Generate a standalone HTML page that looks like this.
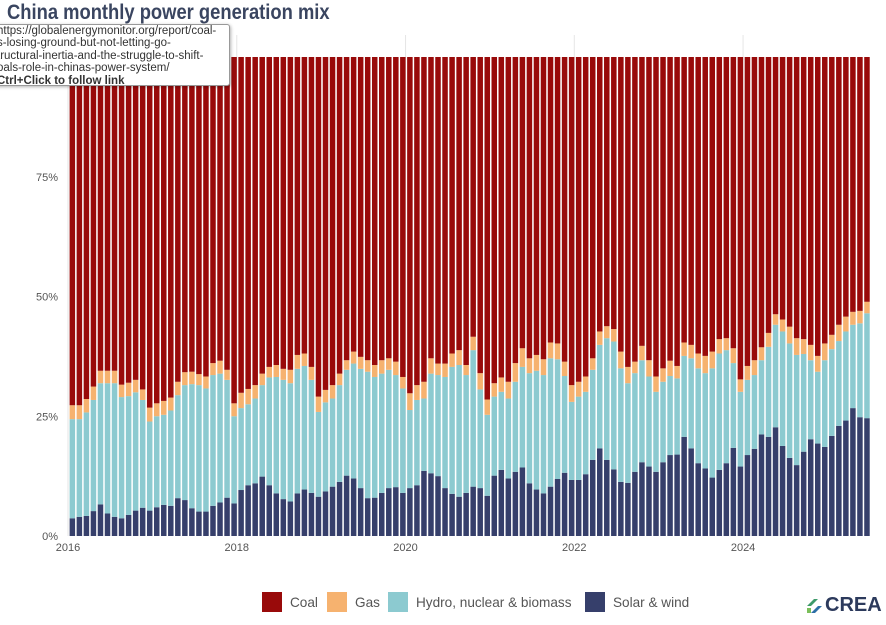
<!DOCTYPE html>
<html><head><meta charset="utf-8">
<style>
body{margin:0;width:886px;height:625px;overflow:hidden;background:#fff;font-family:"Liberation Sans",sans-serif;position:relative}
#title{position:absolute;left:7px;top:1px;font-size:21px;font-weight:bold;color:#3a4560;white-space:nowrap;margin:0;transform:scaleX(0.875);transform-origin:left top}
#tip{position:absolute;left:-6px;top:24px;width:236px;height:62px;background:#fff;border:1px solid #999;border-radius:3px;box-shadow:1px 1px 3px rgba(0,0,0,.3);font-size:11.5px;line-height:12.4px;color:#333;padding:0 0 0 2px;box-sizing:border-box;white-space:nowrap;overflow:hidden}
.leg{position:absolute;top:592px;font-size:14px;color:#555;height:20px}
.sw{position:absolute;left:0;top:0;width:20px;height:20px}
.lt{position:absolute;left:28px;top:2px;white-space:nowrap;transform:scaleX(0.97);transform-origin:left top}
#logo{position:absolute;left:805px;top:594px;font-size:20px;font-weight:bold;color:#2c3a5c;display:flex;align-items:center}
</style></head><body>
<svg id="chart" width="886" height="625" style="position:absolute;left:0;top:0"></svg>
<h1 id="title">China monthly power generation mix</h1>
<div id="tip">https://globalenergymonitor.org/report/coal-<br>s-losing-ground-but-not-letting-go-<br>tructural-inertia-and-the-struggle-to-shift-<br>oals-role-in-chinas-power-system/<br><b>Ctrl+Click to follow link</b></div>
<div class="leg" style="left:262px"><div class="sw" style="background:#990a0a"></div><span class="lt">Coal</span></div>
<div class="leg" style="left:327px"><div class="sw" style="background:#f6b26f"></div><span class="lt">Gas</span></div>
<div class="leg" style="left:388px"><div class="sw" style="background:#8ccad0"></div><span class="lt">Hydro, nuclear &amp; biomass</span></div>
<div class="leg" style="left:585px"><div class="sw" style="background:#363f6b"></div><span class="lt">Solar &amp; wind</span></div>
<div id="logo"><svg width="20" height="18" viewBox="0 0 20 18"><path d="M2 9 L9 2 L13 2 L6 9Z" fill="#3d9a6a"/><path d="M6 16 L13 9 L17 9 L10 16Z" fill="#2c6fa6"/><path d="M2 11 L6 11 L6 16 L2 16Z" fill="#7bbf5a"/></svg>CREA</div>
<script>
const startYear = 2016;
const solarWind = [3.7,4.0,4.2,5.2,6.6,4.7,4.0,3.7,4.4,5.3,5.9,5.3,6.0,6.5,6.3,7.9,7.5,5.8,5.1,5.1,6.3,7.0,8.0,6.8,9.6,10.6,11.0,
12.4,10.6,8.9,7.7,7.2,8.9,9.7,9.0,8.2,9.3,10.3,11.3,12.6,12.0,10.0,7.9,8.0,9.0,10.0,10.2,9.0,10.0,10.6,13.6,13.1,12.5,10.0,8.8,8.2,9.0,
10.3,10.0,8.4,12.6,13.8,12.0,13.4,14.3,11.0,9.7,8.9,10.3,11.9,13.2,11.7,11.7,12.9,15.9,18.3,15.9,13.9,11.3,11.1,13.4,15.4,14.5,13.4,15.4,16.9,
17.0,20.7,18.3,15.2,14.1,12.2,13.8,15.2,18.4,14.5,16.9,18.2,21.2,20.7,22.7,18.8,16.3,14.8,17.6,20.2,19.3,18.6,20.9,23.0,24.1,26.7,24.8,24.6];
const hydroNuclearBiomass = [20.7,20.4,21.6,23.2,25.3,27.2,27.9,25.3,24.8,24.7,22.5,18.6,19.0,18.8,19.9,21.5,24.0,25.9,26.4,25.7,27.3,26.9,24.6,18.2,17.1,16.9,17.7,
19.1,22.5,24.3,24.9,24.7,26.0,25.8,23.6,17.7,18.6,18.4,20.2,22.1,24.0,24.9,26.4,25.2,24.9,24.7,23.4,21.8,16.3,17.8,15.1,20.8,21.1,23.2,26.5,27.5,24.6,
28.5,20.6,16.9,16.5,16.3,16.7,18.8,21.0,23.0,24.8,24.7,26.8,25.0,20.2,16.3,17.4,17.2,18.8,21.6,25.4,26.7,23.7,20.8,20.6,21.3,18.8,16.7,16.8,16.5,
15.9,16.9,18.8,19.8,19.9,22.8,24.3,23.6,17.7,15.6,15.7,15.4,15.5,18.8,21.4,23.9,23.9,23.0,20.4,16.5,15.0,18.1,18.1,17.7,18.6,17.4,19.6,21.9];
const gas = [2.9,2.9,2.8,2.8,2.6,2.6,2.6,2.6,2.8,2.6,2.2,2.9,2.7,2.9,2.7,2.8,2.7,2.6,2.3,2.5,2.5,2.7,2.1,2.7,3.2,3.2,2.8,
2.4,2.2,2.5,2.3,2.8,2.9,2.6,2.7,3.2,2.6,2.8,2.4,2.0,2.5,2.5,2.4,2.5,2.8,2.4,2.8,2.4,3.5,3.1,3.5,3.2,2.4,2.8,2.8,3.1,2.1,
2.8,3.4,3.2,2.8,3.0,3.5,3.9,3.9,3.1,3.3,3.3,3.3,3.3,3.0,3.5,3.1,3.2,2.4,2.8,2.5,2.6,3.5,3.4,2.4,3.0,3.4,3.2,2.8,3.2,
2.6,2.8,2.8,3.1,3.6,3.5,3.0,2.5,3.1,2.6,2.9,3.1,2.7,2.9,2.2,2.5,3.5,3.5,3.1,3.2,3.3,3.5,3.0,3.4,3.1,2.7,2.6,2.4];
const yTicks = [0,25,50,75];
const yTickLabels = ["0%","25%","50%","75%"];
const xTickYears = [2016,2018,2020,2022,2024];

const NS="http://www.w3.org/2000/svg";
const svg=document.getElementById('chart');
const x0=68, monthW=7.032, y0=536, pxPerPct=4.79;
const xScale=m=>x0+m*monthW;
const yScale=v=>y0-v*pxPerPct;
function mk(tag,attrs){const e=document.createElementNS(NS,tag);for(const k in attrs)e.setAttribute(k,attrs[k]);svg.appendChild(e);return e;}
xTickYears.forEach(yr=>{
  const gx=xScale((yr-startYear)*12);
  const g=mk('line',{x1:gx,x2:gx,y1:35,y2:y0,stroke:'#e6e6e6','stroke-width':1});
  
  
});
const colors={coal:'#990a0a',gas:'#f6b26f',hydro:'#8ccad0',solar:'#363f6b'};
solarWind.forEach((s,i)=>{
  const h=hydroNuclearBiomass[i], g=gas[i], c=100-s-h-g;
  const bx=xScale(i)+1.6, bw=5.5;
  let base=0;
  [['solar',s,'bar-solar-wind'],['hydro',h,'bar-hydro-nuclear-biomass'],['gas',g,'bar-gas'],['coal',c,'bar-coal']].forEach(([k,v,n])=>{
    const r=mk('rect',{x:bx,width:bw,y:yScale(base+v),height:v*pxPerPct,fill:colors[k]});
    
    
    base+=v;
  });
});
yTicks.forEach((t,i)=>{
  const tx=mk('text',{x:58,y:yScale(t)+4,'text-anchor':'end','font-size':11,fill:'#555','font-family':'Liberation Sans, sans-serif'});
  tx.textContent=yTickLabels[i];
  
  
});
xTickYears.forEach(yr=>{
  const tx=mk('text',{x:xScale((yr-startYear)*12),y:551,'text-anchor':'middle','font-size':11,fill:'#555','font-family':'Liberation Sans, sans-serif'});
  tx.textContent=String(yr);
  
  
});
</script>
</body></html>
